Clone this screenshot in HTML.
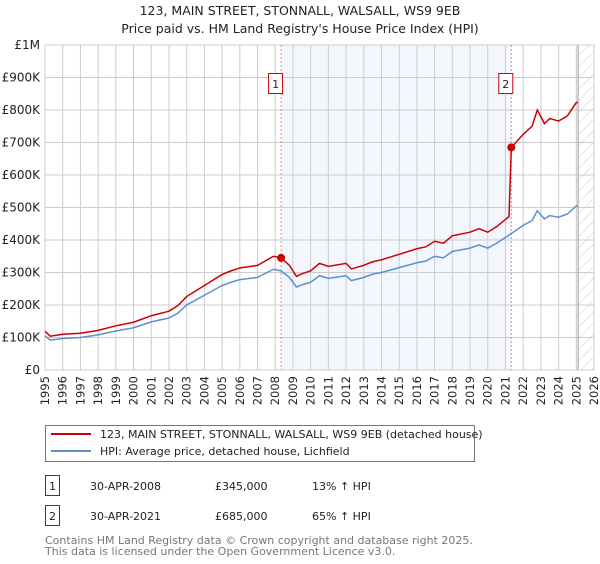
<!DOCTYPE html>
<html><head><meta charset="utf-8"><style>
body{margin:0;background:#fff;font-family:"DejaVu Sans","Liberation Sans",sans-serif;}
</style></head><body>
<svg id="chart" width="600" height="560" xmlns="http://www.w3.org/2000/svg" font-family="DejaVu Sans, Liberation Sans, sans-serif">
<defs><pattern id="hatch" patternUnits="userSpaceOnUse" width="8" height="8" patternTransform="rotate(45)"><line x1="0" y1="0" x2="0" y2="8" stroke="#ccc" stroke-width="1"/></pattern></defs>
<text x="300" y="15" text-anchor="middle" font-size="12.5" fill="#222">123, MAIN STREET, STONNALL, WALSALL, WS9 9EB</text>
<text x="300" y="33" text-anchor="middle" font-size="12.5" fill="#222">Price paid vs. HM Land Registry's House Price Index (HPI)</text>
<g id="plot"></g>
<g>
<rect x="45.5" y="425.5" width="429" height="36" fill="#fff" stroke="#777"/>
<line x1="51" y1="434" x2="91" y2="434" stroke="#cc0000" stroke-width="2"/>
<text x="100" y="438" font-size="11" fill="#222">123, MAIN STREET, STONNALL, WALSALL, WS9 9EB (detached house)</text>
<line x1="51" y1="451" x2="91" y2="451" stroke="#5b8fd0" stroke-width="2"/>
<text x="100" y="455" font-size="11" fill="#222">HPI: Average price, detached house, Lichfield</text>
</g>
<g font-size="11" fill="#222">
<rect x="45.5" y="475.5" width="14" height="20" fill="#fff" stroke="#cc0000"/><text x="52.5" y="490" text-anchor="middle">1</text>
<text x="90" y="490">30-APR-2008</text><text x="215" y="490">£345,000</text><text x="312" y="490">13% ↑ HPI</text>
<rect x="45.5" y="505.5" width="14" height="20" fill="#fff" stroke="#cc0000"/><text x="52.5" y="520" text-anchor="middle">2</text>
<text x="90" y="520">30-APR-2021</text><text x="215" y="520">£685,000</text><text x="312" y="520">65% ↑ HPI</text>
</g>
<text x="45" y="544" font-size="11" fill="#777">Contains HM Land Registry data © Crown copyright and database right 2025.</text>
<text x="45" y="555" font-size="11" fill="#777">This data is licensed under the Open Government Licence v3.0.</text>
</svg>
<script>
const yTicks=[0,100,200,300,400,500,600,700,800,900,1000];
const yTickLabels=["£0","£100K","£200K","£300K","£400K","£500K","£600K","£700K","£800K","£900K","£1M"];
const years=[1995,1996,1997,1998,1999,2000,2001,2002,2003,2004,2005,2006,2007,2008,2009,2010,2011,2012,2013,2014,2015,2016,2017,2018,2019,2020,2021,2022,2023,2024,2025,2026];
const hpiDates=[1995,1995.3,1996,1997,1998,1999,2000,2001,2002,2002.5,2003,2004,2005,2005.5,2006,2007,2007.9,2008.33,2008.8,2009.2,2009.5,2010,2010.5,2011,2012,2012.3,2013,2013.5,2014,2015,2016,2016.5,2017,2017.5,2018,2019,2019.5,2020,2020.5,2021.2,2021.33,2022,2022.5,2022.8,2023.2,2023.5,2024,2024.5,2025,2025.1];
const hpiValues=[105,92,97,100,108,120,130,148,160,175,200,230,260,270,278,285,310,305,285,255,262,270,290,282,290,275,285,295,300,315,330,335,350,345,365,375,385,375,390,415,420,445,460,490,465,475,470,480,505,505];
const priceDates=hpiDates;
const priceValues=[119,104,110,113,122,136,147,167,181,198,226,260,294,305,314,322,350,345,322,288,296,305,328,319,328,311,322,333,339,356,373,379,396,390,413,424,435,424,441,472,685,725,750,800,758,774,766,782,823,823];
const sales=[{n:"1",date:2008.33,value:345},{n:"2",date:2021.33,value:685}];
const shadeStart=2008.33, shadeEnd=2021.33, dataEnd=2025.1;
const X0=45,X1=594,Y0=370,Y1=45;
const xs=d=>X0+(d-1995)/(2026-1995)*(X1-X0);
const ys=v=>Y0-v/1000*(Y0-Y1);
const NS="http://www.w3.org/2000/svg";
const g=document.getElementById('plot');
function mk(tag,attrs){const e=document.createElementNS(NS,tag);for(const k in attrs)e.setAttribute(k,attrs[k]);g.appendChild(e);return e;}
let e;
e=mk('rect',{x:xs(shadeStart),y:Y1,width:xs(shadeEnd)-xs(shadeStart),height:Y0-Y1,fill:'#f3f6fd'});


e=mk('rect',{x:xs(dataEnd),y:Y1,width:X1-xs(dataEnd),height:Y0-Y1,fill:'url(#hatch)'});


years.forEach(y=>{
 e=mk('line',{x1:xs(y),x2:xs(y),y1:Y1,y2:Y0,stroke:'#ccc','stroke-width':1});
 
 
 const t=mk('text',{x:0,y:0,'font-size':11.5,fill:'#222','text-anchor':'end',transform:`translate(${xs(y)+4},376) rotate(-90)`});
 t.textContent=y;
 
 
});
yTicks.forEach((v,i)=>{
 e=mk('line',{x1:X0,x2:X1,y1:ys(v),y2:ys(v),stroke:'#ccc','stroke-width':1});
 
 
 const t=mk('text',{x:40,y:ys(v)+4,'font-size':12,fill:'#222','text-anchor':'end'});
 t.textContent=yTickLabels[i];
 
 
});
e=mk('line',{x1:xs(dataEnd),x2:xs(dataEnd),y1:Y1,y2:Y0,stroke:'#999','stroke-width':1});


e=mk('rect',{x:X0,y:Y1,width:X1-X0,height:Y0-Y1,fill:'none',stroke:'#ccc'});


sales.forEach(s=>{
 e=mk('line',{x1:xs(s.date),x2:xs(s.date),y1:Y1,y2:Y0,stroke:'#f08080','stroke-width':1,'stroke-dasharray':'2,2'});
 
 
});
e=mk('polyline',{points:hpiDates.map((d,i)=>xs(d)+','+ys(hpiValues[i])).join(' '),fill:'none',stroke:'#5b8fd0','stroke-width':1.5});


e=mk('polyline',{points:priceDates.map((d,i)=>xs(d)+','+ys(priceValues[i])).join(' '),fill:'none',stroke:'#cc0000','stroke-width':1.5});


sales.forEach(s=>{
 e=mk('circle',{cx:xs(s.date),cy:ys(s.value),r:4,fill:'#cc0000'});
 
 
 e=mk('rect',{x:xs(s.date)-12.5,y:73.5,width:14,height:20,fill:'#fff',stroke:'#cc0000'});
 
 
 const t=mk('text',{x:xs(s.date)-5.5,y:88,'font-size':11,fill:'#222','text-anchor':'middle'});
 t.textContent=s.n;
 
 
});
</script>
</body></html>
